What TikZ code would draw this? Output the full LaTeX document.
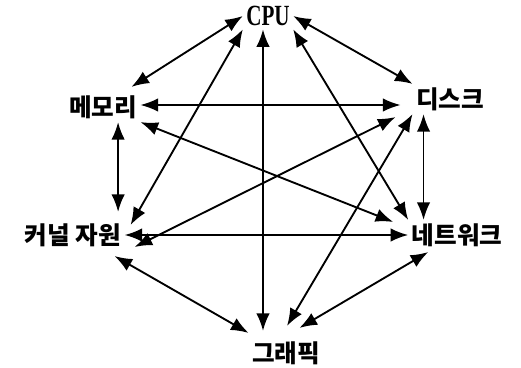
\documentclass[tikz,border=0pt]{standalone}
\usepackage{fontspec}
\usepackage{graphicx}
\setmainfont{Liberation Serif}
\newfontfamily\kofont{Noto Sans CJK KR}
\usetikzlibrary{arrows.meta, calc}

\begin{document}
\begin{tikzpicture}[x=0.03cm, y=-0.03cm,
  lbl/.style={inner sep=0pt, outer sep=3pt, font=\kofont\bfseries\fontsize{21}{25}\selectfont},
  link/.style={{Latex[length=15pt,width=11.5pt]}-{Latex[length=15pt,width=11.5pt]}, line width=1.6pt}]
  \useasboundingbox (0,0) rectangle (521,368);
  % resources around the ring
  \node[lbl, font=\bfseries\fontsize{25}{27}\selectfont] (cpu) at (268,16) {\scalebox{0.72}[1]{CPU}};
  \node[lbl] (disk) at (450,99)  {디스크};
  \node[lbl] (mem)  at (103,107) {메모리};
  \node[lbl] (kern) at (73,235)  {커널 자원};
  \node[lbl] (net)  at (457,235) {네트워크};
  \node[lbl] (gfx)  at (286,353) {그래픽};

  % from CPU
  \draw[link] (cpu.east) -- (disk.north west);
  \draw[link] (cpu.west) -- ($(mem.north east)+(-9,-5)$);
  \draw[link] (cpu.south west) -- ($(kern.north east)+(6,5)$);
  \coordinate (cpuv) at ($(cpu.south)+(-5,0)$);
  \draw[link] (cpuv) -- ($(cpuv |- gfx.north)+(0,-7)$);
  \draw[link] (cpu.south east) -- (net.north west);
  % from memory
  \draw[link] ($(mem.east)+(0,-2)$) -- ($(mem.east -| disk.west)+(-12,-2)$);
  \draw[link] (mem.south east) -- ($(net.north west)+(-15,2)$);
  \draw[link] (mem.-45) -- ($(mem.-45 |- kern.north)+(0,-8)$);
  % from disk
  \draw[link] ($(disk.south west)+(-17,3)$) -- ($(kern.east)+(10,12)$);
  \draw[link] (disk.south west) -- ($(gfx.north)+(1,-12)$);
  \coordinate (diskv) at ($(disk.south west)+(11,0)$);
  \draw[link] (diskv) -- (diskv |- net.north);
  % lower ring
  \draw[link] (kern.east) -- (net.west);
  \draw[link] ($(kern.south east)+(-10,6)$) -- ($(gfx.north west)+(0,-5)$);
  \draw[link] ($(net.south west)+(20,2)$) -- ($(gfx.north east)+(-24,-10)$);
\end{tikzpicture}
\end{document}
